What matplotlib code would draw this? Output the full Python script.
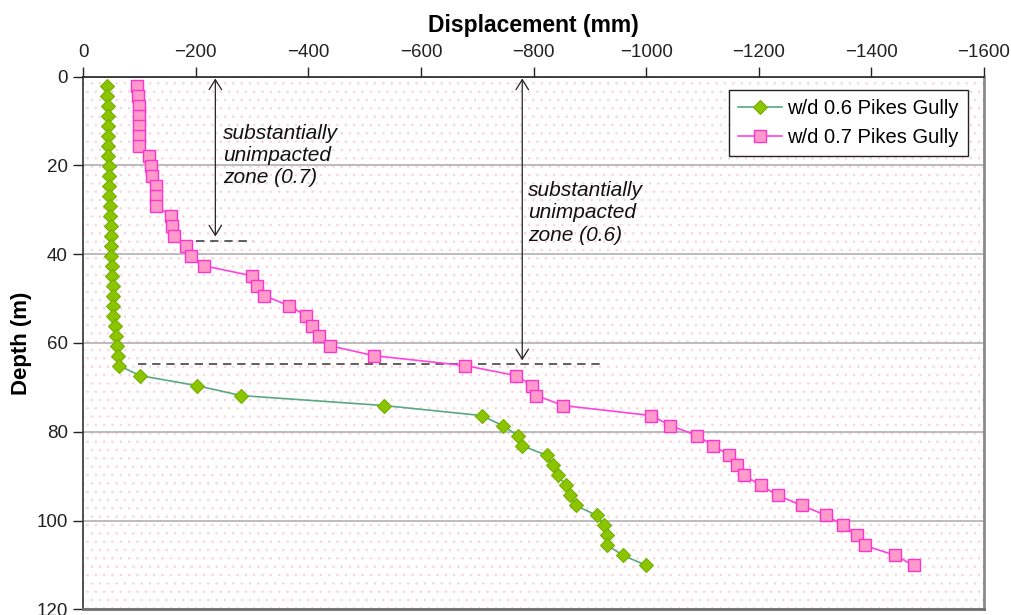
"""Displacement vs depth profile, Pikes Gully, w/d 0.6 and 0.7."""
import matplotlib
matplotlib.use("Agg")
import matplotlib.pyplot as plt
from matplotlib.patches import Rectangle

plt.rcParams.update({
    "font.family": ["Liberation Sans", "DejaVu Sans"],
    "font.size": 13,
    "axes.unicode_minus": True,
    "hatch.linewidth": 0.6,
})

# depth below surface (m), shared by both series
DEPTH = [2.1, 4.35, 6.6, 8.85, 11.1, 13.35, 15.6, 17.85, 20.1, 22.35,
         24.6, 26.85, 29.1, 31.35, 33.6, 35.85, 38.1, 40.35, 42.6, 44.85,
         47.1, 49.35, 51.6, 53.85, 56.1, 58.35, 60.6, 62.85, 65.1, 67.35,
         69.6, 71.85, 74.1, 76.35, 78.6, 80.85, 83.1, 85.35, 87.6, 89.85,
         92.1, 94.35, 96.6, 98.85, 101.1, 103.35, 105.6, 107.85, 110.1]

# displacement (mm)
DISP_06 = [-43, -43, -44, -44, -44, -45, -45, -45, -46, -46,
           -47, -47, -48, -48, -49, -49, -50, -50, -51, -51,
           -53, -53, -53, -54, -57, -59, -60, -63, -64, -101,
           -202, -281, -535, -708, -745, -772, -779, -824, -834, -843,
           -858, -865, -875, -912, -926, -930, -931, -959, -1000]
DISP_07 = [-95, -98, -99, -100, -100, -100, -100, -117, -120, -123,
           -130, -130, -130, -156, -158, -161, -183, -191, -214, -300,
           -309, -322, -366, -396, -407, -419, -438, -516, -679, -769,
           -798, -805, -853, -1009, -1043, -1090, -1119, -1148, -1161, -1174,
           -1204, -1234, -1276, -1320, -1350, -1374, -1388, -1442, -1475]

LABELS = ["w/d 0.6 Pikes Gully", "w/d 0.7 Pikes Gully"]

# unimpacted-zone annotations: (arrow x, arrow top, arrow bottom,
#                               dash y, dash x0, dash x1, text x, text y, text)
ZONES = [
    (-235, 0.4, 36.0, 37.0, -201, -302, -248, 10.6, "substantially\nunimpacted\nzone (0.7)"),
    (-780, 0.4, 63.9, 64.7, -98, -919, -791, 23.5, "substantially\nunimpacted\nzone (0.6)"),
]

fig = plt.figure(figsize=(10.11, 6.15), dpi=100)
ax = fig.add_axes([0.0821, 0.0093, 0.8912, 0.8660])

# faint dotted pink backdrop
ax.patch.set_facecolor("white")
ax.add_patch(Rectangle((0, 0), 1, 1, transform=ax.transAxes, facecolor="white",
                       edgecolor="#fbd3dd", lw=0, hatch="..", zorder=0))

ax.set_xlim(0, -1600)
ax.set_ylim(120, 0)
ax.set_xticks(range(0, -1601, -200))
ax.set_yticks(range(0, 121, 20))
ax.xaxis.tick_top()
ax.xaxis.set_label_position("top")
ax.set_xlabel("Displacement (mm)", fontsize=16.5, fontweight="bold", labelpad=9)
ax.set_ylabel("Depth (m)", fontsize=16, fontweight="bold", labelpad=3)
ax.tick_params(direction="out", length=7, width=1, labelsize=13.5, pad=4, colors="#222222")

ax.yaxis.grid(True, color="#b0b0b0", lw=1.2)
ax.set_axisbelow(True)

ax.spines["top"].set(color="#222222", lw=1.2)
ax.spines["left"].set(color="#333333", lw=1.2)
ax.spines["bottom"].set(color="#707070", lw=2)
ax.spines["right"].set(color="#8a8a8a", lw=2)

ax.plot(DISP_06, DEPTH, color="#5aa882", lw=1.2, marker="D", ms=7,
        mfc="#8cc400", mec="#72b000", mew=0.8, label=LABELS[0], zorder=4)
ax.plot(DISP_07, DEPTH, color="#ff44dd", lw=1.2, marker="s", ms=9,
        mfc="#ff9acb", mec="#ff33cc", mew=1.0, label=LABELS[1], zorder=4)

for ax_x, top, bot, dy, dx0, dx1, tx, ty, txt in ZONES:
    ax.annotate("", xy=(ax_x, top), xytext=(ax_x, bot),
                arrowprops=dict(arrowstyle="<->, head_length=0.4, head_width=0.25",
                                color="#222222", lw=0.9, shrinkA=0, shrinkB=0,
                                mutation_scale=18), zorder=3)
    ax.hlines(dy, dx0, dx1, colors="#444444", linestyles=(0, (5, 3.5)), lw=1.2, zorder=3)
    ax.text(tx, ty, txt, style="italic", fontsize=15, ha="left", va="top",
            linespacing=1.22, color="#111111", zorder=3)

leg = ax.legend(loc="upper right", bbox_to_anchor=(0.9822, 0.975), borderaxespad=0,
                fontsize=14.5, frameon=True, fancybox=False, framealpha=1,
                handlelength=2.2, handletextpad=0.25, borderpad=0.45, labelspacing=0.5)
leg.get_frame().set_edgecolor("#222222")
leg.get_frame().set_linewidth(1.0)

fig.savefig("out.png", dpi=100)
